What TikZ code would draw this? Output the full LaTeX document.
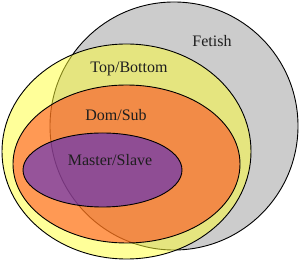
\documentclass[tikz,border=0pt]{standalone}
\usepackage{fontspec}
\setmainfont{Liberation Serif}
\definecolor{grayfill}{RGB}{204,204,204}
\definecolor{yellowfill}{RGB}{255,255,51}
\definecolor{orangefill}{RGB}{255,51,17}
\definecolor{purplefill}{RGB}{45,17,225}
\definecolor{labeltext}{RGB}{30,30,30}
\tikzset{
  setline/.style={draw=black, line width=0.9pt},
  translucent/.style={fill opacity=0.5, draw opacity=1},
  lbl/.style={text=labeltext, font=\fontsize{16}{19}\selectfont, inner sep=0pt}
}
\begin{document}
\begin{tikzpicture}[x=1pt, y=-1pt]
\useasboundingbox (0,0) rectangle (300,261);
% Fetish circle (underneath)
\draw[setline, fill=grayfill] (174,126) circle [radius=124pt];
% Top/Bottom
\draw[setline, translucent, fill=yellowfill] (126.5,151.5) ellipse [x radius=124.5pt, y radius=107.5pt];
% Dom/Sub
\draw[setline, translucent, fill=orangefill] (126.5,164) ellipse [x radius=113.5pt, y radius=79pt];
% Master/Slave
\draw[setline, translucent, fill=purplefill] (102.5,170) ellipse [x radius=79.5pt, y radius=37pt];
% labels
\node[lbl] (fetish) at (212,41) {Fetish};
\node[lbl] (topbottom) at (129,69) {Top/Bottom};
\node[lbl] (domsub) at (116,115) {Dom/Sub};
\node[lbl] (masterslave) at (110,160) {Master/Slave};
\end{tikzpicture}
\end{document}
